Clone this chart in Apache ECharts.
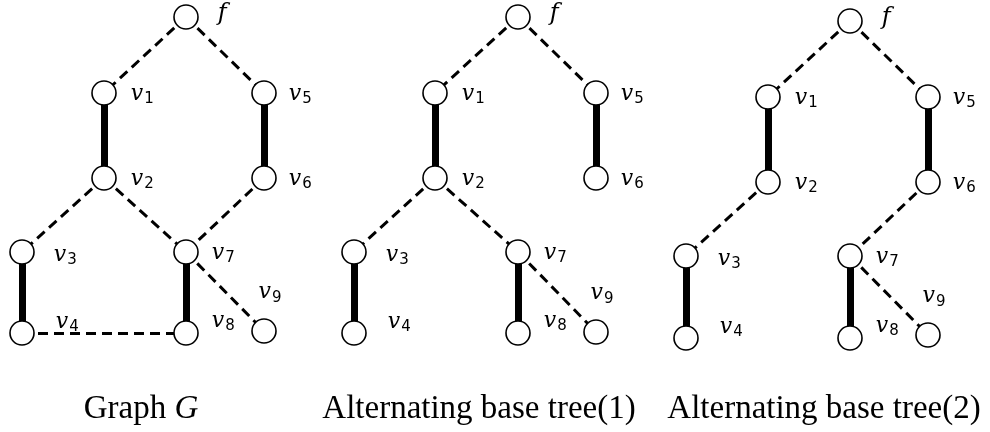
<!DOCTYPE html>
<html>
<head>
<meta charset="utf-8">
<script src="https://cdn.jsdelivr.net/npm/echarts@6/dist/echarts.min.js"></script>
<style>
html, body { margin: 0; padding: 0; background: #fff; }
#main { width: 990px; height: 432px; }
</style>
</head>
<body>
<div id="main"></div>
<script>
// node names and their [x, y] in each panel
var nodeNames = ['f', 'v1', 'v2', 'v3', 'v4', 'v5', 'v6', 'v7', 'v8', 'v9'];
var posGraph = [[186, 17], [104, 93], [104, 178], [22, 252], [22, 333], [264, 93], [264, 178], [186, 252], [186, 333], [264, 331]];
var posTree1 = [[518, 17], [435, 93], [435, 178], [354, 252], [354, 333], [596, 93], [596, 178], [518, 252], [518, 333], [596, 332]];
var posTree2 = [[850, 21], [768, 97], [768, 182], [686, 256], [686, 338], [928, 97], [928, 182], [850, 256], [850, 338], [928, 335]];

// edges: [source, target, matched?]
var edgesGraph = [['f', 'v1', 0], ['f', 'v5', 0], ['v1', 'v2', 1], ['v5', 'v6', 1], ['v2', 'v3', 0], ['v2', 'v7', 0],
    ['v6', 'v7', 0], ['v3', 'v4', 1], ['v7', 'v8', 1], ['v7', 'v9', 0], ['v4', 'v8', 0]];
var edgesTree1 = [['f', 'v1', 0], ['f', 'v5', 0], ['v1', 'v2', 1], ['v5', 'v6', 1], ['v2', 'v3', 0], ['v2', 'v7', 0],
    ['v3', 'v4', 1], ['v7', 'v8', 1], ['v7', 'v9', 0]];
var edgesTree2 = [['f', 'v1', 0], ['f', 'v5', 0], ['v1', 'v2', 1], ['v5', 'v6', 1], ['v2', 'v3', 0], ['v6', 'v7', 0],
    ['v3', 'v4', 1], ['v7', 'v8', 1], ['v7', 'v9', 0]];

var captions = ['Graph {i|G}', 'Alternating base tree(1)', 'Alternating base tree(2)'];
var captionX = [141, 479, 824];

// label offsets (styling)
var labelOffset = {
    f: [14, -3], v1: [9, 1], v2: [9, 1], v3: [14, 3], v4: [16, -11], v5: [7, 1], v6: [7, 1],
    v7: [8, 1], v8: [8, -12], v9: [6, -8]
};

function makeNodes(pos) {
    return nodeNames.map(function (n, i) {
        var txt = n === 'f' ? '{f|f}' : '{v|v}{s|' + n.slice(1) + '}';
        return {
            name: n,
            value: pos[i],
            label: {
                show: true,
                position: n === 'v9' ? 'top' : 'right',
                offset: labelOffset[n],
                formatter: txt
            }
        };
    });
}

function makeLinks(edges) {
    return edges.map(function (e) {
        return {
            source: e[0],
            target: e[1],
            lineStyle: e[2] ? { type: 'solid', width: 7 } : { type: [10, 6], width: 3 }
        };
    });
}

function graphSeries(pos, edges) {
    return {
        type: 'graph',
        coordinateSystem: 'cartesian2d',
        symbol: 'circle',
        symbolSize: 24,
        silent: true,
        animation: false,
        itemStyle: { color: '#fff', borderColor: '#000', borderWidth: 1.6 },
        lineStyle: { color: '#000', opacity: 1, curveness: 0 },
        label: {
            color: '#000',
            rich: {
                f: { fontFamily: 'DejaVu Serif', fontStyle: 'italic', fontSize: 24, lineHeight: 26, color: '#000' },
                v: { fontFamily: 'DejaVu Serif', fontStyle: 'italic', fontSize: 22, lineHeight: 26, color: '#000' },
                s: { fontFamily: 'DejaVu Sans', fontSize: 15, lineHeight: 14, verticalAlign: 'bottom', color: '#000', padding: [0, 0, 0, 1] }
            }
        },
        data: makeNodes(pos),
        links: makeLinks(edges)
    };
}

var myChart = echarts.init(document.getElementById('main'));
var option = {
    backgroundColor: '#fff',
    animation: false,
    grid: { left: 0, right: 0, top: 0, bottom: 0 },
    xAxis: { type: 'value', min: 0, max: 990, show: false },
    yAxis: { type: 'value', min: 0, max: 432, inverse: true, show: false },
    title: captions.map(function (c, i) {
        return {
            text: c,
            left: captionX[i],
            top: 393,
            textAlign: 'center',
            padding: 0,
            textStyle: {
                fontFamily: 'Liberation Serif', fontSize: 33, fontWeight: 'normal', color: '#000',
                rich: { i: { fontFamily: 'Liberation Serif', fontStyle: 'italic', fontSize: 33, color: '#000' } }
            }
        };
    }),
    series: [graphSeries(posGraph, edgesGraph), graphSeries(posTree1, edgesTree1), graphSeries(posTree2, edgesTree2)]
};
myChart.setOption(option);
</script>
</body>
</html>
